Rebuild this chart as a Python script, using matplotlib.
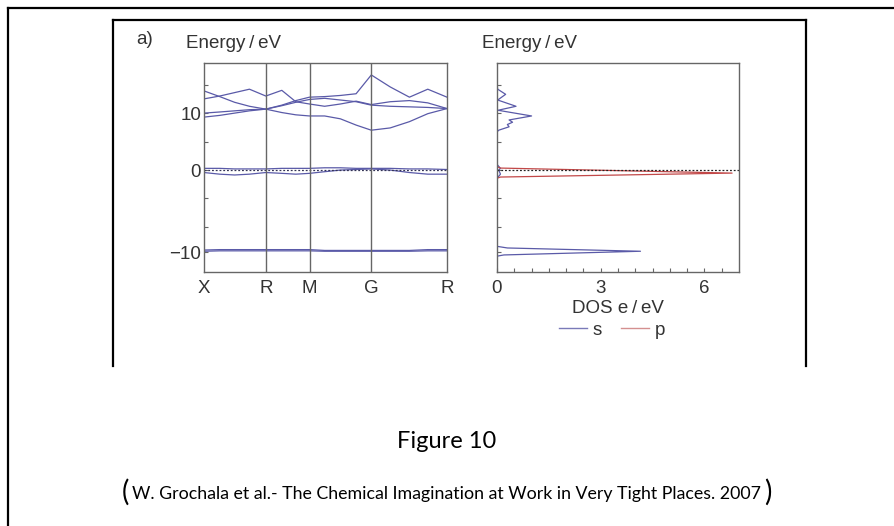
import numpy as np
import matplotlib
matplotlib.use("Agg")
import matplotlib.pyplot as plt
from matplotlib.lines import Line2D

plt.rcParams['font.family'] = ['Liberation Sans', 'DejaVu Sans']

# high-symmetry points along the path (cumulative |k|, cubic cell)
k_labels = ['X', 'R', 'M', 'G', 'R']
k_ticks = [0.0, 0.707, 1.207, 1.914, 2.780]
k = [0.0, 0.18, 0.35, 0.52, 0.707, 0.89, 1.05, 1.207, 1.38, 1.56, 1.74, 1.914, 2.13, 2.35, 2.56, 2.780]

# band energies (eV) on the k grid
band_a = [13.9, 12.9, 11.9, 11.2, 10.7, 10.1, 9.7, 9.5, 9.5, 9.0, 7.9, 7.0, 7.4, 8.5, 9.9, 10.8]
band_b = [12.5, 13.0, 13.6, 14.2, 13.0, 14.0, 12.0, 11.6, 11.2, 11.6, 12.1, 11.5, 12.0, 12.2, 11.8, 10.8]
band_c = [10.0, 10.2, 10.4, 10.6, 10.7, 11.4, 12.2, 12.8, 12.9, 13.1, 13.4, 16.7, 14.6, 12.8, 14.2, 12.8]
band_d = [9.3, 9.6, 10.0, 10.4, 10.7, 11.3, 11.9, 12.4, 12.6, 12.3, 12.0, 11.4, 11.2, 11.1, 11.0, 10.8]
band_e = [0.3, 0.3, 0.2, 0.2, 0.2, 0.3, 0.3, 0.3, 0.4, 0.4, 0.3, 0.3, 0.3, 0.2, 0.2, 0.1]
band_f = [-0.3, -0.5, -0.6, -0.5, -0.3, -0.4, -0.5, -0.4, -0.2, 0.0, 0.1, 0.2, 0.0, -0.3, -0.5, -0.5]
band_g = [-9.75, -9.7, -9.7, -9.7, -9.7, -9.7, -9.7, -9.7, -9.8, -9.8, -9.8, -9.8, -9.8, -9.8, -9.7, -9.7]
band_h = [-9.9, -9.85, -9.85, -9.85, -9.85, -9.85, -9.85, -9.85, -9.9, -9.9, -9.9, -9.9, -9.9, -9.9, -9.85, -9.85]
bands = [band_a, band_b, band_c, band_d, band_e, band_f, band_g, band_h]

# partial DOS (e/eV) vs energy (eV)
s_energy = [16.0, 15.0, 14.2, 13.3, 12.3, 11.2, 10.5, 9.5, 8.8, 8.4, 8.0, 7.6, 7.0, 6.7,
            1.0, 0.3, 0.0, -0.5, -1.0, -9.3, -9.5, -9.9, -10.35, -10.5, -12.5]
s_dos = [0.0, 0.0, 0.02, 0.25, 0.02, 0.55, 0.03, 1.0, 0.35, 0.45, 0.3, 0.35, 0.05, 0.0,
         0.0, 0.1, 0.05, 0.1, 0.0, 0.0, 0.3, 4.15, 0.2, 0.0, 0.0]
p_energy = [19.0, 0.6, 0.35, -0.37, -0.85, -1.0, -12.5]
p_dos = [0.0, 0.0, 0.1, 6.8, 0.1, 0.0, 0.0]

blue = '#5a5aa8'
red = '#c24848'
spine = '#666666'
txt = '#333333'
fs = 13.5

# energies below zero are drawn stretched
def fwd(y):
    y = np.asarray(y, dtype=float)
    return np.where(y < 0, y * 1.44, y)

def inv(t):
    t = np.asarray(t, dtype=float)
    return np.where(t < 0, t / 1.44, t)

fig = plt.figure(figsize=(8.94, 5.26), dpi=100)
W, H = 894.0, 526.0

def fx(px):
    return px / W

def fy(py):
    return 1 - py / H

ax1 = fig.add_axes([fx(204), fy(272), (447 - 204) / W, (272 - 63) / H])
ax2 = fig.add_axes([fx(497), fy(272), (739 - 497) / W, (272 - 63) / H])

for ax in (ax1, ax2):
    ax.set_yscale('function', functions=(fwd, inv))
    ax.set_ylim(-12.43, 18.8)
    ax.set_yticks([-10, 0, 10])
    ax.set_yticks([-6.9, -3.4, 5, 15], minor=True)
    for s in ax.spines.values():
        s.set_color(spine)
        s.set_linewidth(1.0)
    ax.tick_params(which='both', direction='in', colors=spine, length=3, width=0.8,
                   labelcolor=txt, labelsize=fs)

# band structure
for b in bands:
    ax1.plot(k, b, color=blue, lw=0.9)
ax1.axhline(0, color='#333355', lw=0.9, ls=(0, (1.5, 1.5)))
for kt in k_ticks[1:-1]:
    ax1.axvline(kt, color=spine, lw=1.0)
ax1.set_xlim(k_ticks[0], k_ticks[-1])
ax1.set_xticks(k_ticks)
ax1.set_xticklabels(k_labels)
ax1.set_yticklabels(['\u221210', '0', '10'])
ax1.tick_params(axis='x', length=0, pad=6)
ax1.tick_params(axis='y', pad=2)

# density of states
ax2.plot(s_dos, s_energy, color=blue, lw=0.9, label='s')
ax2.plot(p_dos, p_energy, color=red, lw=0.9, label='p')
ax2.axhline(0, color='#222222', lw=0.9, ls=(0, (1.5, 1.5)))
ax2.set_xlim(0, 7)
ax2.set_xticks([0, 3, 6])
ax2.set_xticks(np.arange(0.5, 7, 0.5), minor=True)
ax2.tick_params(axis='x', pad=6)
ax2.set_yticklabels([])
ax2.set_xlabel('DOS e\u2009/\u2009eV', fontsize=fs, color=txt, labelpad=2)

leg_s = Line2D([], [], color='#7a7ab8', lw=1.0)
leg_p = Line2D([], [], color='#d49090', lw=1.0)
ax2.legend([leg_s, leg_p], ['s', 'p'], loc='center', ncol=2, frameon=False,
           bbox_to_anchor=(fx(612), fy(330)), bbox_transform=fig.transFigure,
           handlelength=1.5, handletextpad=0.3, columnspacing=1.0,
           prop={'size': fs}, labelcolor=txt, borderpad=0)

# panel captions
fig.text(fx(136), fy(40), 'a)', fontsize=fs, color=txt, va='center')
fig.text(fx(186), fy(44), 'Energy\u2009/\u2009eV', fontsize=fs, color=txt, va='center')
fig.text(fx(482), fy(44), 'Energy\u2009/\u2009eV', fontsize=fs, color=txt, va='center')

# frames
frame_lines = [
    ([8, 8], [8, H]), ([8, W], [8, 8]),
    ([113, 113], [20, 366]), ([113, 806], [20, 20]), ([806, 806], [20, 366]),
]
for xs, ys in frame_lines:
    fig.add_artist(Line2D([fx(v) for v in xs], [fy(v) for v in ys],
                          transform=fig.transFigure, color='black', lw=1.6))

# caption
cap_font = ['Lato', 'DejaVu Sans']
fig.text(0.5, fy(441), 'Figure 10', fontsize=17, family=cap_font, ha='center', va='center')
fig.text(fx(447), fy(494), 'W. Grochala et al.- The Chemical Imagination at Work in Very Tight Places. 2007',
         fontsize=12.8, family=cap_font, ha='center', va='center')
fig.text(fx(125), fy(492), '(', fontsize=20, family=cap_font, ha='center', va='center')
fig.text(fx(768), fy(492), ')', fontsize=20, family=cap_font, ha='center', va='center')

fig.savefig('out.png', dpi=100)
